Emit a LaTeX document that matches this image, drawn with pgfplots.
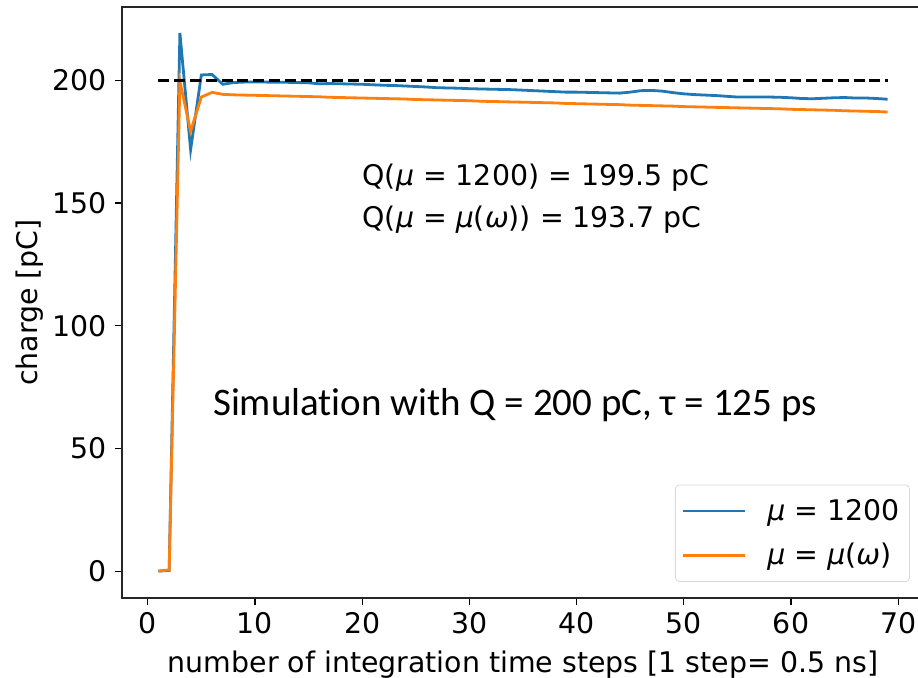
\documentclass[border=0pt]{standalone}
\usepackage{fontspec}
\setmainfont{DejaVu Sans}
\newfontfamily\carlito[Ligatures=NoCommon]{Carlito}
\usepackage{pgfplots}
\pgfplotsset{compat=1.18}
\usepackage{pgfplotstable}
\definecolor{mblue}{HTML}{1F77B4}
\definecolor{morange}{HTML}{FF7F0E}

\pgfplotstableread{
x blue orange
1 0 0
2 0.3 0.5
3 219.3 199.7
4 171.8 179.2
5 202.2 193.2
6 202.4 195.1
7 198.4 194.3
8 199.1 194.1
9 199.3 194.0
10 199.3 193.9
11 199.3 193.8
12 199.2 193.7
13 199.2 193.6
14 199.1 193.5
15 199.0 193.4
16 198.6 193.3
17 198.7 193.1
18 198.6 193.0
19 198.5 192.9
20 198.4 192.8
21 198.2 192.7
22 198.0 192.6
23 197.9 192.5
24 197.7 192.4
25 197.5 192.2
26 197.3 192.1
27 197.0 192.0
28 196.9 191.9
29 196.8 191.8
30 196.6 191.7
31 196.5 191.5
32 196.4 191.4
33 196.3 191.3
34 196.2 191.2
35 196.0 191.1
36 195.8 191.0
37 195.6 190.9
38 195.4 190.8
39 195.2 190.6
40 195.2 190.5
41 195.1 190.4
42 195.0 190.3
43 194.9 190.2
44 194.8 190.1
45 195.2 189.9
46 195.8 189.8
47 195.9 189.7
48 195.6 189.6
49 195.0 189.5
50 194.5 189.3
51 194.2 189.2
52 194.0 189.1
53 193.8 189.0
54 193.5 188.9
55 193.2 188.8
56 193.2 188.7
57 193.2 188.6
58 193.2 188.5
59 193.1 188.4
60 192.9 188.2
61 192.6 188.1
62 192.5 188.0
63 192.7 187.9
64 192.9 187.8
65 193.0 187.6
66 192.8 187.5
67 192.8 187.4
68 192.6 187.3
69 192.3 187.1
}\data

\begin{document}
\begin{tikzpicture}
\begin{axis}[
  scale only axis, width=401pt, height=295.5pt,
  xmin=-2.4, xmax=72.4, ymin=-10.95, ymax=229.9,
  xtick={0,10,...,70}, ytick={0,50,...,200},
  tick align=outside, tick pos=left,
  major tick length=3.5pt,
  every tick/.style={black, line width=0.6pt},
  axis line style={line width=0.6pt, black!85},
  font=\fontsize{14.2}{17}\selectfont,
  ticklabel style={font=\fontsize{14.2}{17}\selectfont},
  yticklabel style={xshift=-0.5pt},
  /pgf/number format/assume math mode=true,
  xlabel={number of integration time steps [1 step= 0.5 ns]},
  ylabel={charge [pC]},
  xlabel style={yshift=-2pt},
  ylabel style={yshift=-2pt},
  legend style={at={(0.9825,0.027)}, anchor=south east, draw=black!15, rounded corners=2pt,
    font=\fontsize{14.2}{17}\selectfont, inner xsep=3pt, inner ysep=5pt,
    row sep=6pt},
  legend cell align=left,
  legend image code/.code={\draw[#1, line width=1.3pt] (0pt,0pt) -- (31pt,0pt);
     \path[draw=none] (-1pt,0pt) -- (40pt,0pt);},
  clip=false,
]
\addplot[mblue, line width=1.4pt] table[x=x, y=blue] {\data};
\addlegendentry{{\itshape μ} = 1200}
\addplot[morange, line width=1.4pt] table[x=x, y=orange] {\data};
\addlegendentry{{\itshape μ} = {\itshape μ}({\itshape ω})}
\addplot[black, line width=1.5pt, dash pattern=on 5.5pt off 2.4pt, forget plot] coordinates {(1,200) (69,200)};
\node[anchor=base west, inner sep=0pt] at (axis cs:20,157) {Q({\itshape μ} = 1200) = 199.5 pC};
\node[anchor=base west, inner sep=0pt] at (axis cs:20,140) {Q({\itshape μ} = {\itshape μ}({\itshape ω})) = 193.7 pC};
\node[anchor=base west, inner sep=0pt] at (axis cs:6.06,63.5) {\carlito\fontsize{19.5}{23}\selectfont Simulation with Q = 200 pC, τ = 125 ps};
\coordinate (bl) at (rel axis cs:0,0);
\end{axis}
\pgfresetboundingbox
\useasboundingbox (bl) ++(-61pt,-40pt) rectangle ++(459pt,339pt);
\end{tikzpicture}
\end{document}
